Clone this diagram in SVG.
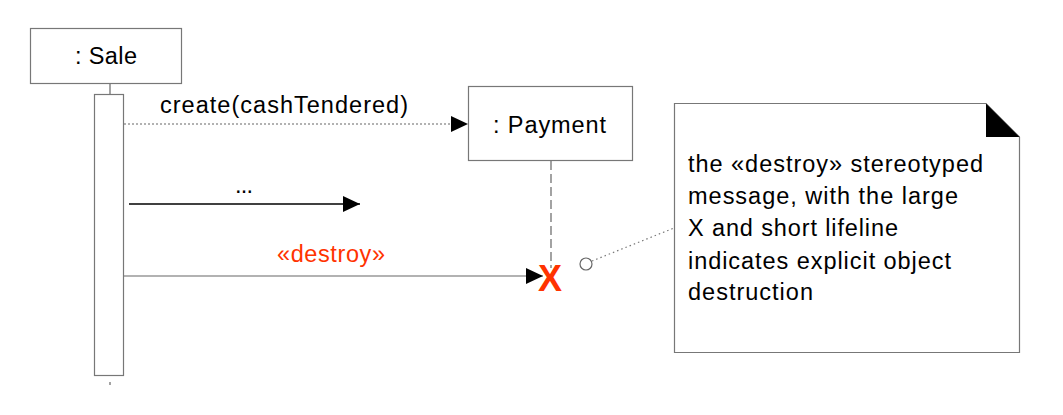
<svg xmlns="http://www.w3.org/2000/svg" width="1063" height="415" viewBox="0 0 1063 415">
<style>
  .box{fill:#fff;stroke:#777;stroke-width:1.2}
  .t{font-family:"Liberation Sans",Arial,sans-serif;font-size:23.5px;fill:#000}
  .red{fill:#ff3300}
  .life{stroke:#666;stroke-width:1.2;fill:none}
  .msg{stroke:#000;stroke-width:1.3;fill:none}
</style>
<defs>
  <marker id="ah" markerWidth="17" markerHeight="16" refX="17" refY="8" orient="auto" markerUnits="userSpaceOnUse">
    <path d="M0,0 L17,8 L0,16 Z" fill="#000"/>
  </marker>
</defs>
<rect width="1063" height="415" fill="#fff"/>
<g id="sale">
  <rect class="box" x="30.5" y="28.5" width="151" height="55"/>
  <text class="t" x="75" y="64" textLength="62">: Sale</text>
  <line class="life" x1="110" y1="84" x2="110" y2="94"/>
  <rect class="box" x="94.5" y="94.5" width="29" height="281"/>
  <line class="life" x1="110" y1="382" x2="110" y2="385"/>
</g>
<g id="payment">
  <rect class="box" x="468.5" y="86.5" width="164" height="74"/>
  <text class="t" x="493" y="133" textLength="113">: Payment</text>
  <line class="life" x1="551" y1="161" x2="551" y2="268" stroke-dasharray="9,4"/>
  <text class="t red" x="550" y="291" text-anchor="middle" style="font-size:36px;font-weight:bold">X</text>
</g>
<g id="note">
  <path class="box" d="M674.5,103.5 H986 L1019.5,137 V352.5 H674.5 Z"/>
  <path d="M986,103.5 V137 H1019.5 Z" fill="#000"/>
  <text class="t" x="688" y="172" textLength="295">the «destroy» stereotyped</text>
  <text class="t" x="688" y="204" textLength="270">message, with the large</text>
  <text class="t" x="688" y="236" textLength="210">X and short lifeline</text>
  <text class="t" x="688" y="269" textLength="263">indicates explicit object</text>
  <text class="t" x="688" y="300" textLength="125">destruction</text>
</g>
<g id="connectors">
  <line x1="124" y1="124" x2="468" y2="124" stroke="#666" stroke-width="1.2" stroke-dasharray="2,2" marker-end="url(#ah)"/>
  <text class="t" x="160" y="113" textLength="248">create(cashTendered)</text>
  <line class="msg" x1="129" y1="204" x2="360" y2="204" marker-end="url(#ah)"/>
  <text class="t" x="235" y="193" textLength="18">...</text>
  <line x1="124" y1="276" x2="543" y2="276" stroke="#666" stroke-width="1.2" marker-end="url(#ah)"/>
  <text class="t red" x="277" y="262" textLength="108">«destroy»</text>
  <circle cx="586" cy="264" r="6" fill="#fff" stroke="#666" stroke-width="1.2"/>
  <line x1="592" y1="261" x2="674" y2="228" stroke="#777" stroke-width="1.2" stroke-dasharray="1.5,3"/>
</g>
</svg>
